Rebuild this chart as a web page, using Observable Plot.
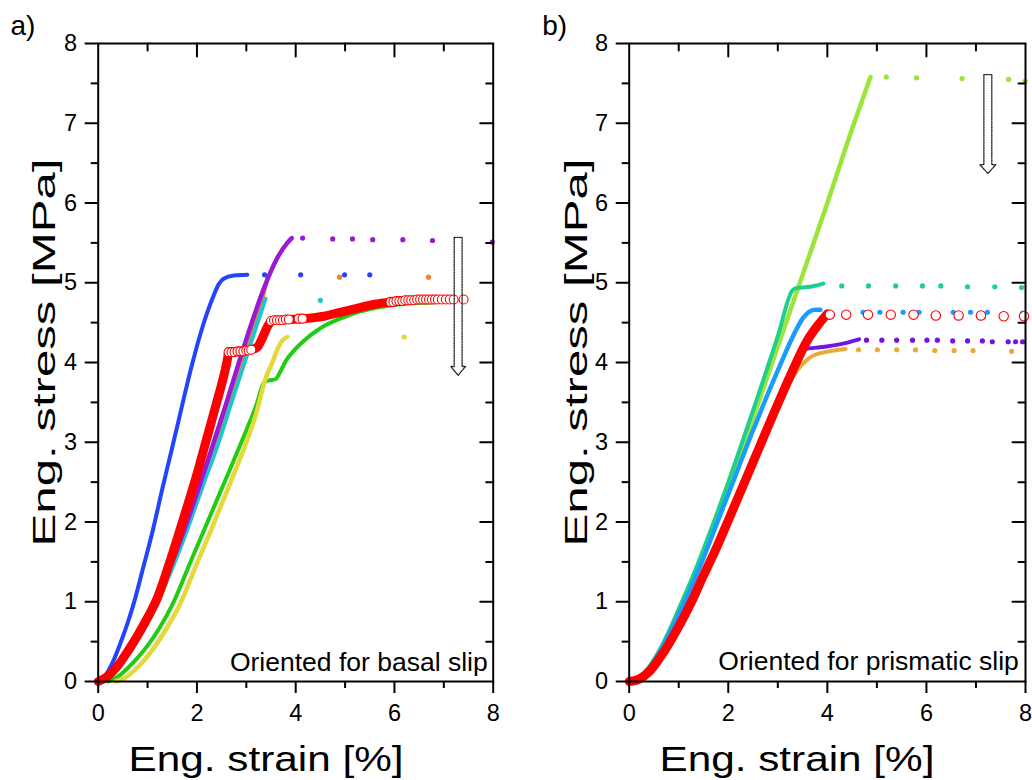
<!DOCTYPE html>
<html><head><meta charset="utf-8">
<script src="https://cdn.jsdelivr.net/npm/d3@7"></script>
<script src="https://cdn.jsdelivr.net/npm/@observablehq/plot@0.6"></script>
<style>
body{margin:0;background:#fff;font-family:"Liberation Sans",Arial,sans-serif;}
#wrap{position:relative;width:1032px;height:780px;background:#fff;}
.panel{position:absolute;top:0;}
</style></head><body>
<div id="wrap"><div class="panel" id="pa" style="left:0"></div><div class="panel" id="pb" style="left:516px"></div></div>
<script>
// ---- axis ticks ----
const strainTicks = [0, 2, 4, 6, 8];
const strainMinor = [1, 3, 5, 7];
const stressTicks = [0, 1, 2, 3, 4, 5, 6, 7, 8];
const stressMinor = [0.5, 1.5, 2.5, 3.5, 4.5, 5.5, 6.5, 7.5];
const xTitle = "Eng. strain [%]";
const yTitle = "Eng. stress [MPa]";

// ---- panel a: oriented for basal slip ([strain %, stress MPa]) ----
const basalBlue = [[0,0],[0.15,0.08],[0.3,0.25],[0.45,0.48],[0.6,0.74],[0.72,0.98],[0.9,1.4],[1.1,1.88],[1.3,2.42],[1.47,2.86],[1.65,3.33],[1.87,3.9],[2.1,4.42],[2.3,4.78],[2.44,4.98],[2.54,5.05],[2.75,5.09],[3.02,5.1]];
const basalBlueDots = [[3.37,5.1],[4.1,5.1],[4.99,5.1],[5.5,5.1]];
const basalGreen = [[0.2,0],[0.4,0.06],[0.6,0.17],[0.8,0.3],[1.0,0.45],[1.25,0.68],[1.5,0.96],[1.85,1.47],[2.2,1.98],[2.6,2.56],[3.0,3.15],[3.2,3.46],[3.35,3.74],[3.42,3.77],[3.59,3.79],[3.7,3.9],[3.8,4.02],[3.95,4.14],[4.16,4.27],[4.5,4.43],[4.9,4.55],[5.2,4.62],[5.58,4.68],[6.26,4.74],[6.86,4.76],[7.0,4.77]];
const basalYellow = [[0.35,0],[0.55,0.05],[0.75,0.15],[0.95,0.28],[1.15,0.44],[1.4,0.68],[1.65,0.96],[1.98,1.45],[2.3,1.92],[2.65,2.45],[3.0,3.0],[3.2,3.36],[3.39,3.8],[3.52,3.99],[3.62,4.15],[3.72,4.27],[3.83,4.32]];
const basalYellowDots = [[6.2,4.32]];
const basalOrange = [[0,0],[0.2,0.05],[0.4,0.17],[0.6,0.34],[0.8,0.53],[1.0,0.76],[1.25,1.09],[1.5,1.45],[1.8,1.94],[2.1,2.46],[2.44,3.05],[2.7,3.55],[2.95,4.03],[3.2,4.53],[3.35,4.86],[3.43,5.07]];
const basalOrangeDots = [[4.89,5.07],[6.69,5.07]];
const basalCyan = [[0,0],[0.2,0.05],[0.4,0.17],[0.6,0.33],[0.8,0.52],[1.0,0.74],[1.25,1.06],[1.5,1.42],[1.8,1.9],[2.1,2.42],[2.44,3.0],[2.7,3.5],[2.95,3.97],[3.2,4.45],[3.39,4.8]];
const basalCyanDots = [[4.5,4.78]];
const basalPurple = [[0,0],[0.2,0.06],[0.4,0.18],[0.6,0.36],[0.8,0.56],[1.0,0.8],[1.25,1.13],[1.5,1.5],[1.8,2.0],[2.05,2.45],[2.33,2.98],[2.6,3.5],[2.84,3.98],[3.1,4.48],[3.35,4.92],[3.6,5.28],[3.83,5.5],[3.92,5.56]];
const basalPurpleDots = [[4.14,5.56],[4.75,5.55],[5.15,5.55],[5.56,5.54],[6.17,5.54],[6.77,5.53],[7.98,5.51]];
const basalRedRise = [[0,0],[0.2,0.07],[0.4,0.2],[0.6,0.38],[0.8,0.58],[1.0,0.8],[1.2,1.05],[1.45,1.5],[1.73,2.05],[2.0,2.6],[2.2,3.05],[2.4,3.5],[2.55,3.85],[2.62,4.05],[2.64,4.13]];
const basalRedStep = [[3.1,4.16],[3.22,4.19],[3.32,4.3],[3.42,4.44],[3.5,4.52]];
const basalRedHarden = [[3.86,4.54],[4.2,4.55],[4.57,4.58],[4.9,4.63],[5.24,4.68],[5.6,4.73],[5.92,4.76]];
const basalRedRings = [[2.64,4.13],[2.7,4.13],[2.76,4.13],[2.82,4.14],[2.88,4.14],[2.94,4.14],[3.0,4.15],[3.05,4.15],[3.1,4.16],[3.5,4.52],[3.56,4.53],[3.62,4.53],[3.68,4.53],[3.74,4.53],[3.8,4.54],[3.86,4.54],[4.06,4.55],[4.14,4.55],[5.92,4.76],[5.98,4.76],[6.04,4.77],[6.1,4.77],[6.16,4.77],[6.22,4.78],[6.28,4.78],[6.34,4.78],[6.4,4.78],[6.46,4.79],[6.52,4.79],[6.58,4.79],[6.64,4.79],[6.7,4.79],[6.76,4.79],[6.82,4.79],[6.88,4.79],[6.96,4.79],[7.04,4.79],[7.12,4.79],[7.2,4.79],[7.4,4.79]];
const basalArrow = [[7.21,5.57],[7.37,5.57],[7.37,3.95],[7.44,3.95],[7.29,3.84],[7.14,3.95],[7.21,3.95],[7.21,5.57]];

// ---- panel b: oriented for prismatic slip ----
const prismLime = [[0,0],[0.2,0.05],[0.4,0.18],[0.6,0.37],[0.8,0.6],[1.0,0.87],[1.25,1.22],[1.5,1.6],[1.75,2.0],[2.0,2.42],[2.5,3.3],[3.0,4.2],[3.49,5.08],[4.0,6.0],[4.5,6.93],[4.87,7.58]];
const prismLimeDots = [[5.19,7.58],[5.8,7.57],[6.72,7.56],[7.66,7.55],[7.99,7.53]];
const prismTeal = [[0,0],[0.2,0.05],[0.4,0.18],[0.6,0.38],[0.8,0.63],[1.0,0.91],[1.25,1.27],[1.5,1.66],[1.75,2.07],[2.0,2.5],[2.5,3.4],[3.0,4.33],[3.29,4.9],[3.35,4.93],[3.5,4.94],[3.73,4.96],[3.92,4.99]];
const prismTealDots = [[4.29,4.96],[4.83,4.96],[5.38,4.96],[5.92,4.96],[6.29,4.96],[6.83,4.95],[7.38,4.95],[7.92,4.94]];
const prismBlue = [[0,0],[0.2,0.05],[0.4,0.17],[0.6,0.35],[0.8,0.58],[1.0,0.84],[1.25,1.18],[1.5,1.55],[1.75,1.95],[2.0,2.35],[2.5,3.15],[3.0,3.9],[3.3,4.32],[3.5,4.55],[3.62,4.63],[3.75,4.66],[3.86,4.66]];
const prismBlueDots = [[4.4,4.63],[4.72,4.63],[5.06,4.63],[5.53,4.63],[5.85,4.63],[6.54,4.63],[6.89,4.63],[7.23,4.63],[7.94,4.62]];
const prismGold = [[0,0],[0.2,0.03],[0.4,0.12],[0.6,0.28],[0.8,0.47],[1.0,0.69],[1.25,0.99],[1.5,1.33],[1.75,1.67],[2.0,2.03],[2.5,2.76],[2.9,3.32],[3.12,3.61],[3.39,3.9],[3.6,4.04],[3.73,4.09],[4.13,4.15],[4.37,4.17]];
const prismGoldDots = [[4.63,4.16],[5.01,4.16],[5.4,4.16],[5.78,4.16],[6.17,4.15],[6.56,4.15],[6.94,4.15],[7.72,4.14]];
const prismPurple = [[0,0],[0.2,0.03],[0.4,0.12],[0.6,0.28],[0.8,0.47],[1.0,0.69],[1.25,0.99],[1.5,1.33],[1.75,1.67],[2.0,2.03],[2.5,2.77],[3.06,3.6],[3.3,3.95],[3.45,4.14],[3.55,4.17],[3.86,4.19],[4.27,4.23],[4.64,4.29]];
const prismPurpleDots = [[4.79,4.28],[5.1,4.28],[5.4,4.28],[5.72,4.28],[6.01,4.28],[6.22,4.28],[6.53,4.27],[6.83,4.27],[7.13,4.27],[7.33,4.26],[7.65,4.26],[7.8,4.26],[7.94,4.26]];
const prismRed = [[0,0],[0.2,0.03],[0.4,0.12],[0.6,0.28],[0.8,0.47],[1.0,0.69],[1.25,0.99],[1.5,1.33],[1.75,1.66],[2.0,2.02],[2.5,2.75],[3.0,3.48],[3.3,3.9],[3.6,4.28],[3.8,4.46],[4.0,4.61]];
const prismRedRings = [[4.05,4.6],[4.38,4.6],[4.82,4.6],[5.28,4.6],[5.74,4.6],[6.19,4.59],[6.65,4.59],[7.1,4.59],[7.56,4.58],[7.97,4.58]];
const prismArrow = [[7.16,7.61],[7.32,7.61],[7.32,6.48],[7.4,6.48],[7.24,6.37],[7.08,6.48],[7.16,6.48],[7.16,7.61]];

const FONT = "'Liberation Sans', Arial, sans-serif";
const X = d => d[0], Y = d => d[1];
const stick = {draw(c, l) { c.moveTo(0, 0); c.lineTo(0, -l); }};

function buildPanel(cfg) {
  const marks = [];
  for (const s of cfg.lines) {
    marks.push(Plot.line(s.pts, {x: X, y: Y, stroke: s.color, strokeWidth: s.w, curve: "monotone-x", strokeLinecap: "round", strokeLinejoin: "round"}));
  }
  for (const s of cfg.dots) {
    marks.push(Plot.dot(s.pts, {x: X, y: Y, r: 2.6, fill: s.color, stroke: null}));
  }
  for (const s of cfg.rings) {
    marks.push(Plot.dot(s.pts, {x: X, y: Y, r: s.r, fill: "white", stroke: "#ff0000", strokeWidth: 1.1}));
  }
  marks.push(Plot.line(cfg.arrow, {x: X, y: Y, stroke: "#222", strokeWidth: 1.3, strokeDasharray: "1.4,1.2", curve: "linear"}));
  // frame and axes
  marks.push(Plot.frame({stroke: "black", strokeWidth: 2}));
  marks.push(Plot.axisX({ticks: strainTicks, tickSize: 12, tickPadding: 11, tickFormat: d => d, label: null, strokeWidth: 2, fontSize: 23.5}));
  marks.push(Plot.axisX({ticks: strainMinor, tickSize: 7, tickFormat: () => "", label: null, strokeWidth: 2}));
  marks.push(Plot.axisY({ticks: stressTicks, tickSize: 13, tickPadding: 8, tickFormat: d => d, label: null, strokeWidth: 2, fontSize: 23.5}));
  marks.push(Plot.axisY({ticks: stressMinor, tickSize: 7, tickFormat: () => "", label: null, strokeWidth: 2}));
  // inward ticks on right and top
  marks.push(Plot.vector(stressTicks.slice(1, -1), {x: 8, y: d => d, length: 13, rotate: 270, anchor: "start", shape: stick, stroke: "black", strokeWidth: 2}));
  marks.push(Plot.vector(stressMinor, {x: 8, y: d => d, length: 7, rotate: 270, anchor: "start", shape: stick, stroke: "black", strokeWidth: 2}));
  marks.push(Plot.vector(strainTicks.slice(1, -1), {x: d => d, y: 8, length: 13, rotate: 180, anchor: "start", shape: stick, stroke: "black", strokeWidth: 2}));
  marks.push(Plot.vector(strainMinor, {x: d => d, y: 8, length: 7, rotate: 180, anchor: "start", shape: stick, stroke: "black", strokeWidth: 2}));
  // texts
  marks.push(Plot.text([cfg.note], {frameAnchor: "bottom-right", text: d => d, textAnchor: "end", lineAnchor: "bottom", dx: cfg.noteDx, dy: cfg.noteDy, fontSize: 26.5, fill: "black"}));
  marks.push(Plot.text([yTitle], {frameAnchor: "left", text: d => d, textAnchor: "middle", lineAnchor: "bottom", rotate: -90, dx: -42.7, dy: -10, fontSize: 32, fill: "black"}));
  marks.push(Plot.text([xTitle], {frameAnchor: "bottom", text: d => d, textAnchor: "middle", lineAnchor: "bottom", dx: cfg.xTitleDx, dy: 89, fontSize: 35, fill: "black"}));
  marks.push(Plot.text([cfg.tag], {frameAnchor: "top-left", text: d => d, textAnchor: "start", lineAnchor: "bottom", dx: cfg.tagDx, dy: -9, fontSize: 28, fill: "black"}));

  const svg = Plot.plot({
    width: 516, height: 780,
    marginTop: 43, marginBottom: 99, marginLeft: cfg.ml, marginRight: cfg.mr,
    x: {domain: [0, 8]}, y: {domain: [0, 8]},
    style: {fontFamily: FONT, fontSize: "23.5px", color: "black", background: "white", overflow: "visible"},
    marks
  });
  for (const t of svg.querySelectorAll("text")) {
    if (t.textContent === yTitle) { t.setAttribute("textLength", 388); t.setAttribute("lengthAdjust", "spacingAndGlyphs"); }
    if (t.textContent === xTitle) { t.setAttribute("textLength", 275); t.setAttribute("lengthAdjust", "spacingAndGlyphs"); }
  }
  return svg;
}

const panelA = buildPanel({
  ml: 97.7, mr: 23.3, tag: "a)", tagDx: -87.7, note: "Oriented for basal slip", noteDx: -5.5, noteDy: -11, xTitleDx: -29.7,
  lines: [
    {pts: basalGreen, color: "#22cc11", w: 4},
    {pts: basalYellow, color: "#e3d93a", w: 4.5},
    {pts: basalOrange, color: "#f08030", w: 4},
    {pts: basalCyan, color: "#1fc4cc", w: 4},
    {pts: basalPurple, color: "#9a1ad4", w: 4.5},
    {pts: basalBlue, color: "#2244ff", w: 4},
    {pts: basalRedRise, color: "#ff0000", w: 9},
    {pts: basalRedStep, color: "#ff0000", w: 9},
    {pts: basalRedHarden, color: "#ff0000", w: 9}
  ],
  dots: [
    {pts: basalBlueDots, color: "#2244ff"},
    {pts: basalYellowDots, color: "#e3d93a"},
    {pts: basalOrangeDots, color: "#f08030"},
    {pts: basalCyanDots, color: "#1fc4cc"},
    {pts: basalPurpleDots, color: "#9a1ad4"}
  ],
  rings: [{pts: basalRedRings, r: 4.5}],
  arrow: basalArrow
});
const panelB = buildPanel({
  ml: 112.7, mr: 7, tag: "b)", tagDx: -87, note: "Oriented for prismatic slip", noteDx: -6.7, noteDy: -12, xTitleDx: -30.4,
  lines: [
    {pts: prismLime, color: "#9be43a", w: 4.5},
    {pts: prismTeal, color: "#1ed08a", w: 4},
    {pts: prismBlue, color: "#1a9bff", w: 4.5},
    {pts: prismGold, color: "#e8aa38", w: 4},
    {pts: prismPurple, color: "#7414e0", w: 4},
    {pts: prismRed, color: "#ff0000", w: 9}
  ],
  dots: [
    {pts: prismLimeDots, color: "#9be43a"},
    {pts: prismTealDots, color: "#1ed08a"},
    {pts: prismBlueDots, color: "#1a9bff"},
    {pts: prismGoldDots, color: "#e8aa38"},
    {pts: prismPurpleDots, color: "#7414e0"}
  ],
  rings: [{pts: prismRedRings, r: 4.7}],
  arrow: prismArrow
});
document.getElementById("pa").appendChild(panelA);
document.getElementById("pb").appendChild(panelB);
</script>
</body></html>
